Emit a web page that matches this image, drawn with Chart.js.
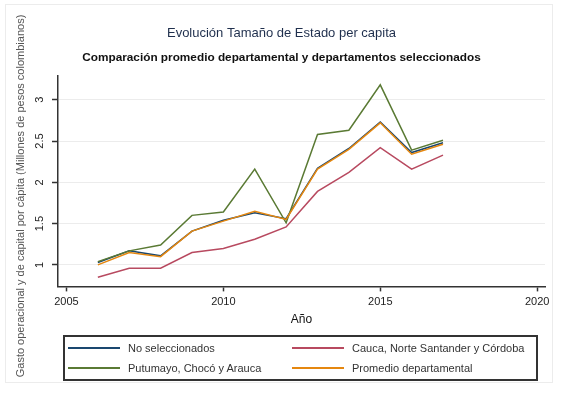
<!DOCTYPE html>
<html>
<head>
<meta charset="utf-8">
<script src="https://cdn.jsdelivr.net/npm/chart.js@4"></script>
<style>
  body { margin: 0; background: #fff; }
  #wrap { position: relative; width: 563px; height: 398px; }
  #frame { position: absolute; left: 5px; top: 4px; width: 548px; height: 379px; border: 1px solid #ececec; box-sizing: border-box; }
  #legend { position: absolute; left: 63px; top: 335px; width: 475px; height: 46px; border: 2px solid #333; box-sizing: border-box;
            display: grid; grid-template-columns: 224px 1fr; grid-auto-rows: 20px; padding: 1px 0 0 3px;
            font: 11px "Liberation Sans", Arial, sans-serif; color: #333; }
  #legend .item { display: flex; align-items: center; white-space: nowrap; }
  #legend .swatch { display: inline-block; width: 52px; height: 2px; margin-right: 8px; }
</style>
</head>
<body>
<div id="wrap">
  <div id="frame"></div>
  <canvas id="estadoChart" width="563" height="398"></canvas>
  <div id="legend"></div>
</div>
<script>
// años y series (millones de pesos per cápita)
const years = [2006, 2007, 2008, 2009, 2010, 2011, 2012, 2013, 2014, 2015, 2016, 2017];
const noSeleccionados = [1.03, 1.17, 1.11, 1.41, 1.54, 1.63, 1.56, 2.17, 2.41, 2.73, 2.36, 2.48];
const caucaNorteCordoba = [0.85, 0.96, 0.96, 1.15, 1.20, 1.31, 1.46, 1.89, 2.12, 2.42, 2.16, 2.33];
const putumayoChocoArauca = [1.04, 1.17, 1.24, 1.60, 1.64, 2.16, 1.51, 2.58, 2.63, 3.18, 2.39, 2.51];
const promedioDepartamental = [1.00, 1.15, 1.10, 1.41, 1.53, 1.65, 1.55, 2.16, 2.40, 2.72, 2.34, 2.46];
const xTicks = [2005, 2010, 2015, 2020];
const yTicks = [1, 1.5, 2, 2.5, 3];

const toPoints = vals => years.map((x, i) => ({ x: x, y: vals[i] }));

const yTitle = 'Gasto operacional y de capital por cápita (Millones de pesos colombianos)';

// titulo del eje y dibujado a mano (Stata lo centra en todo el grafico)
const yTitlePlugin = {
  id: 'yTitle',
  afterDraw(chart) {
    const c = chart.ctx;
    c.save();
    c.translate(21, 196);
    c.rotate(-Math.PI / 2);
    c.font = '11px "Liberation Sans", Arial, sans-serif';
    c.fillStyle = '#555';
    c.textAlign = 'center';
    c.textBaseline = 'middle';
    c.fillText(yTitle, 0, 0);
    c.restore();
  }
};

document.addEventListener('DOMContentLoaded', function() {
  const ctx = document.getElementById('estadoChart');
  const chart = new Chart(ctx, {
    type: 'line',
    data: {
      datasets: [
        { label: 'No seleccionados', data: toPoints(noSeleccionados), borderColor: '#1a476f', order: 3 },
        { label: 'Cauca, Norte Santander y Córdoba', data: toPoints(caucaNorteCordoba), borderColor: '#b84a60', order: 2 },
        { label: 'Putumayo, Chocó y Arauca', data: toPoints(putumayoChocoArauca), borderColor: '#5a7a34', order: 1 },
        { label: 'Promedio departamental', data: toPoints(promedioDepartamental), borderColor: '#e5870f', order: 0 }
      ]
    },
    options: {
      responsive: false,
      animation: false,
      layout: { padding: { left: 18, right: 18, top: 0, bottom: 71 } },
      elements: {
        line: { borderWidth: 1.5, tension: 0, fill: false },
        point: { radius: 0 }
      },
      plugins: {
        legend: { display: false },
        tooltip: { enabled: false },
        title: {
          display: true,
          text: 'Evolución Tamaño de Estado per capita',
          color: '#1f2f4d',
          font: { family: '"Liberation Sans", Arial, sans-serif', size: 13, weight: 'normal' },
          padding: { top: 26, bottom: 9 }
        },
        subtitle: {
          display: true,
          text: 'Comparación promedio departamental y departamentos seleccionados',
          color: '#111',
          font: { family: '"Liberation Sans", Arial, sans-serif', size: 11.8, weight: 'bold' },
          padding: { top: 0, bottom: 11 }
        }
      },
      scales: {
        x: {
          type: 'linear',
          min: 2004.73,
          max: 2020.25,
          afterBuildTicks: scale => { scale.ticks = xTicks.map(v => ({ value: v })); },
          ticks: {
            color: '#222',
            padding: 4,
            font: { family: '"Liberation Sans", Arial, sans-serif', size: 11 },
            callback: v => String(v)
          },
          grid: { drawOnChartArea: false, tickLength: 5, tickColor: '#333', tickWidth: 1.5 },
          border: { color: '#333', width: 1.5 },
          title: {
            display: true,
            text: 'Año',
            color: '#111',
            font: { family: '"Liberation Sans", Arial, sans-serif', size: 12 },
            padding: { top: 0, bottom: 0 }
          }
        },
        y: {
          min: 0.74,
          max: 3.29,
          afterBuildTicks: scale => { scale.ticks = yTicks.map(v => ({ value: v })); },
          afterFit: scale => { scale.width = 40; },
          ticks: {
            color: '#222',
            padding: 4,
            minRotation: 90,
            maxRotation: 90,
            crossAlign: 'center',
            font: { family: '"Liberation Sans", Arial, sans-serif', size: 11 },
            callback: v => String(v)
          },
          grid: { color: '#ececec', lineWidth: 1, tickLength: 6, tickColor: '#333', tickWidth: 1.5 },
          border: { color: '#333', width: 1.5 }
        }
      }
    },
    plugins: [yTitlePlugin]
  });

  // leyenda en caja de dos columnas
  const legend = document.getElementById('legend');
  chart.data.datasets.forEach(ds => {
    const item = document.createElement('div');
    item.className = 'item';
    const sw = document.createElement('span');
    sw.className = 'swatch';
    sw.style.background = ds.borderColor;
    item.appendChild(sw);
    item.appendChild(document.createTextNode(ds.label));
    legend.appendChild(item);
  });
});
</script>
</body>
</html>
